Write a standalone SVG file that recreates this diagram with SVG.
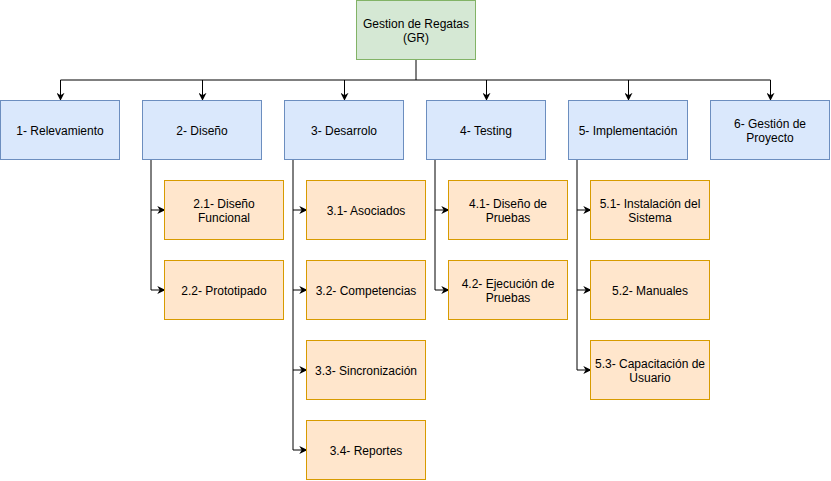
<svg xmlns="http://www.w3.org/2000/svg" width="831" height="481" viewBox="0 0 831 481">
<defs>
<marker id="arr" viewBox="0 0 10 10" refX="9" refY="5" markerWidth="8" markerHeight="8" markerUnits="userSpaceOnUse" orient="auto">
<path d="M0,0 L10,5 L0,10 L3,5 Z" fill="#000"/>
</marker>
</defs>
<style>
.blue{fill:#dae8fc;stroke:#6c8ebf;stroke-width:1}
.org{fill:#ffe6cc;stroke:#d79b00;stroke-width:1}
.grn{fill:#d5e8d4;stroke:#82b366;stroke-width:1}
text{font-family:"Liberation Sans",Arial,sans-serif;font-size:12px;fill:#000;text-anchor:middle}
.c{fill:none;stroke:#000;stroke-width:1}
.a{marker-end:url(#arr)}
</style>
<rect width="831" height="481" fill="#fff"/>
<g id="connectors">
<path class="c" d="M416,60 V80 M60.5,80 H770.5"/>
<path class="c a" d="M60.5,80 V100"/>
<path class="c a" d="M202.5,80 V100"/>
<path class="c a" d="M344.5,80 V100"/>
<path class="c a" d="M486.5,80 V100"/>
<path class="c a" d="M628.5,80 V100"/>
<path class="c a" d="M770.5,80 V100"/>
<path class="c" d="M151,160 V290"/>
<path class="c a" d="M151,210 H164.5"/>
<path class="c a" d="M151,290 H164.5"/>
<path class="c" d="M293,160 V450"/>
<path class="c a" d="M293,210 H306.5"/>
<path class="c a" d="M293,290 H306.5"/>
<path class="c a" d="M293,370 H306.5"/>
<path class="c a" d="M293,450 H306.5"/>
<path class="c" d="M435,160 V290"/>
<path class="c a" d="M435,210 H448.5"/>
<path class="c a" d="M435,290 H448.5"/>
<path class="c" d="M577,160 V370"/>
<path class="c a" d="M577,210 H590.5"/>
<path class="c a" d="M577,290 H590.5"/>
<path class="c a" d="M577,370 H590.5"/>
</g>
<g id="gr"><rect class="grn" x="356.5" y="0.5" width="119" height="59"/><text x="416" y="28">Gestion de Regatas</text><text x="416" y="42">(GR)</text></g>
<g id="n1"><rect class="blue" x="0.5" y="100.5" width="119" height="59"/><text x="60" y="135">1- Relevamiento</text></g>
<g id="n2"><rect class="blue" x="142.5" y="100.5" width="119" height="59"/><text x="202" y="135">2- Diseño</text></g>
<g id="n3"><rect class="blue" x="284.5" y="100.5" width="119" height="59"/><text x="344" y="135">3- Desarrolo</text></g>
<g id="n4"><rect class="blue" x="426.5" y="100.5" width="119" height="59"/><text x="486" y="135">4- Testing</text></g>
<g id="n5"><rect class="blue" x="568.5" y="100.5" width="119" height="59"/><text x="628" y="135">5- Implementación</text></g>
<g id="n6"><rect class="blue" x="710.5" y="100.5" width="119" height="59"/><text x="770" y="128">6- Gestión de</text><text x="770" y="142">Proyecto</text></g>
<g id="n21"><rect class="org" x="164.5" y="180.5" width="119" height="59"/><text x="224" y="208">2.1- Diseño</text><text x="224" y="222">Funcional</text></g>
<g id="n22"><rect class="org" x="164.5" y="260.5" width="119" height="59"/><text x="224" y="295">2.2- Prototipado</text></g>
<g id="n31"><rect class="org" x="306.5" y="180.5" width="119" height="59"/><text x="366" y="215">3.1- Asociados</text></g>
<g id="n32"><rect class="org" x="306.5" y="260.5" width="119" height="59"/><text x="366" y="295">3.2- Competencias</text></g>
<g id="n33"><rect class="org" x="306.5" y="340.5" width="119" height="59"/><text x="366" y="375">3.3- Sincronización</text></g>
<g id="n34"><rect class="org" x="306.5" y="420.5" width="119" height="59"/><text x="366" y="455">3.4- Reportes</text></g>
<g id="n41"><rect class="org" x="448.5" y="180.5" width="119" height="59"/><text x="508" y="208">4.1- Diseño de</text><text x="508" y="222">Pruebas</text></g>
<g id="n42"><rect class="org" x="448.5" y="260.5" width="119" height="59"/><text x="508" y="288">4.2- Ejecución de</text><text x="508" y="302">Pruebas</text></g>
<g id="n51"><rect class="org" x="590.5" y="180.5" width="119" height="59"/><text x="650" y="208">5.1- Instalación del</text><text x="650" y="222">Sistema</text></g>
<g id="n52"><rect class="org" x="590.5" y="260.5" width="119" height="59"/><text x="650" y="295">5.2- Manuales</text></g>
<g id="n53"><rect class="org" x="590.5" y="340.5" width="119" height="59"/><text x="650" y="368">5.3- Capacitación de</text><text x="650" y="382">Usuario</text></g>
</svg>
